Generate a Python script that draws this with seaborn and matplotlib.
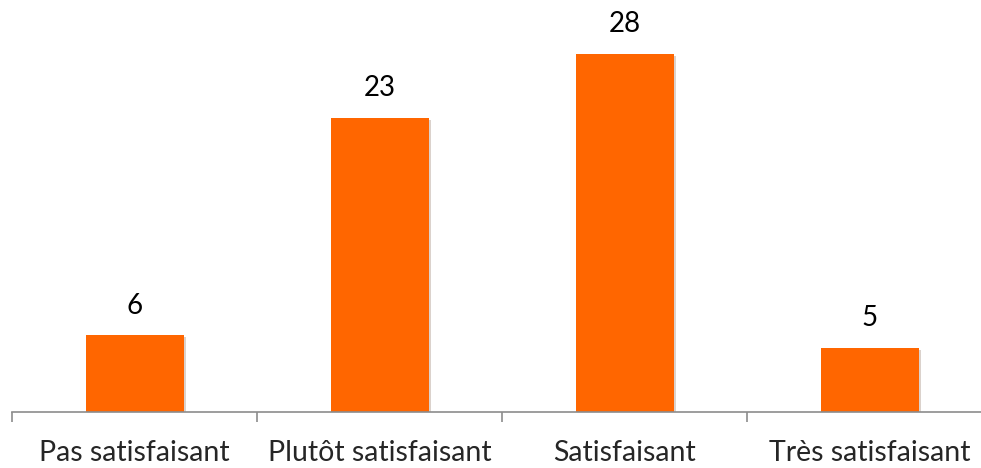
import matplotlib
matplotlib.use("Agg")
import matplotlib.pyplot as plt
import matplotlib.patheffects as pe
import seaborn as sns
import pandas as pd

categories = ["Pas satisfaisant", "Plutôt satisfaisant", "Satisfaisant", "Très satisfaisant"]
counts = [6, 23, 28, 5]

df = pd.DataFrame({"categorie": categories, "nombre": counts})

sns.set_style("white")
plt.rcParams["font.family"] = ["Lato", "DejaVu Sans"]

fig = plt.figure(figsize=(9.81, 4.68), dpi=100)
# axes run a little past the right edge, like the original
ax = fig.add_axes([12 / 981, 56 / 468, 980 / 981, 412 / 468])

sns.barplot(data=df, x="categorie", y="nombre", color="#FF6600",
            saturation=1, width=0.4, linewidth=0, ax=ax)

for p in ax.patches:
    p.set_path_effects([pe.SimplePatchShadow(offset=(1.5, -1.5), alpha=0.2), pe.Normal()])

for i, v in enumerate(counts):
    ax.text(i, v + 1.3, str(v), ha="center", va="bottom", fontsize=20, color="black")

ax.set_ylim(0, 32.2)
ax.set_xlim(-0.5, 3.5)
ax.set_xlabel("")
ax.set_ylabel("")
ax.set_yticks([])

for s in ["top", "right", "left"]:
    ax.spines[s].set_visible(False)
ax.spines["bottom"].set_color("#8c8c8c")
ax.spines["bottom"].set_linewidth(1.2)

ax.set_xticks(range(len(categories)))
ax.set_xticklabels(categories, fontsize=20.5)
ax.tick_params(axis="x", which="major", length=0, pad=20)
ax.set_xticks([-0.5, 0.5, 1.5, 2.5, 3.5], minor=True)
ax.tick_params(axis="x", which="minor", length=7, width=1.2, color="#8c8c8c",
               direction="out", bottom=True)

fig.savefig("out.png", dpi=100)
